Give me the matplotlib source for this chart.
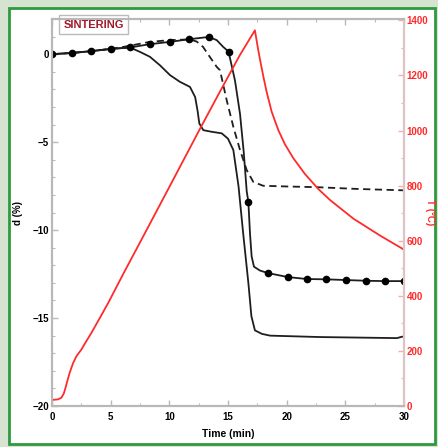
import matplotlib
matplotlib.use("Agg")
import matplotlib.pyplot as plt
from matplotlib.patches import Rectangle
from matplotlib.ticker import MultipleLocator

plt.rcParams['font.family'] = ['Liberation Sans', 'DejaVu Sans']

# solid curve with dots
t_dot = [0, 1.7, 3.3, 5.0, 6.65, 8.35, 10.06, 11.68, 13.38, 14.04, 14.6, 15.05, 15.6,
         16.03, 16.35, 16.6, 16.74, 16.88, 17.02, 17.22, 17.73, 18.4, 20.1, 21.7, 23.4,
         25.1, 26.8, 28.4, 30.0]
d_dot = [0, 0.07, 0.17, 0.3, 0.38, 0.57, 0.7, 0.85, 0.98, 0.8, 0.41, 0.15, -1.5,
         -3.4, -5.6, -7.8, -8.39, -10.2, -11.5, -12.08, -12.3, -12.44, -12.67, -12.78, -12.8,
         -12.84, -12.88, -12.9, -12.9]
t_mark = [0, 1.7, 3.3, 5.0, 6.65, 8.35, 10.06, 11.68, 13.38, 15.05, 16.74,
          18.4, 20.1, 21.7, 23.4, 25.1, 26.8, 28.4, 30.0]
d_mark = [0, 0.07, 0.17, 0.3, 0.38, 0.57, 0.7, 0.85, 0.98, 0.15, -8.39,
          -12.44, -12.67, -12.78, -12.8, -12.84, -12.88, -12.9, -12.9]

# dashed curve
t_dash = [0, 1.7, 3.3, 5.0, 6.05, 8.35, 10.06, 11.76, 12.33, 12.87, 13.5, 14.04, 14.32,
          14.89, 15.46, 16.03, 16.6, 17.16, 18.0, 20.0, 22.57, 26.0, 30.0]
d_dash = [0, 0.07, 0.17, 0.3, 0.41, 0.7, 0.8, 0.84, 0.72, 0.42, -0.2, -0.72, -0.91,
          -2.61, -4.13, -5.45, -6.59, -7.26, -7.48, -7.52, -7.56, -7.66, -7.74]

# lower solid curve
t_low = [0, 1.7, 3.3, 5.0, 6.65, 7.5, 8.35, 9.2, 10.06, 10.9, 11.76, 12.2, 12.4, 12.56,
         12.9, 13.6, 14.47, 15.0, 15.46, 15.9, 16.3, 16.74, 17.0, 17.3, 17.9, 18.6,
         22.85, 29.4, 29.85, 30.0]
d_low = [0, 0.07, 0.17, 0.3, 0.38, 0.13, -0.15, -0.63, -1.19, -1.57, -1.86, -2.43, -3.18, -3.94,
         -4.32, -4.41, -4.5, -4.8, -5.45, -7.5, -10.2, -13.0, -14.9, -15.7, -15.9, -16.0,
         -16.08, -16.14, -16.06, -16.05]

# temperature
t_temp = [0, 0.5, 0.8, 1.0, 1.15, 1.3, 1.5, 1.79, 2.07, 2.5, 2.92, 3.35, 3.95, 4.8, 6.08,
          8.2, 10.0, 12.6, 14.3, 16.03, 17.3, 17.55, 17.8, 18.05, 18.3, 18.73, 19.3, 19.86,
          20.57, 21.57, 22.7, 23.7, 25.7, 28.0, 30.0]
T_temp = [22, 24, 30, 45, 66, 90, 120, 155, 180, 205, 235, 265, 310, 375, 480,
          650, 795, 1005, 1140, 1275, 1364, 1300, 1243, 1190, 1140, 1068, 1001, 950,
          900, 842, 788, 748, 680, 618, 568]

red = '#ff2a2a'
grey = '#b8b8b8'
ink = '#1e1e1e'

fig = plt.figure(figsize=(4.39, 4.47), dpi=100)
fig.patch.set_facecolor('#d5e3d0')
fig.patches.append(Rectangle((0.0205, 0.007), 0.970, 0.975, transform=fig.transFigure,
                             facecolor='white', edgecolor='#2e9a3e', linewidth=2, zorder=-1))

ax = fig.add_axes([0.1185, 0.0917, 0.8015, 0.8658])
ax2 = ax.twinx()

ax.plot(t_low, d_low, color=ink, lw=1.3)
ax.plot(t_dash, d_dash, color=ink, lw=1.3, ls=(0, (4, 2.5)))
ax.plot(t_dot, d_dot, color=ink, lw=1.3)
ax.plot(t_mark, d_mark, 'o', color='black', ms=4.5)
ax2.plot(t_temp, T_temp, color=red, lw=1.3)

ax.set_xlim(0, 30)
ax.set_ylim(-20, 2)
ax2.set_ylim(0, 1405)

ax.xaxis.set_major_locator(MultipleLocator(5))
ax.xaxis.set_minor_locator(MultipleLocator(2.5))
ax.yaxis.set_major_locator(MultipleLocator(5))
ax.yaxis.set_minor_locator(MultipleLocator(1))
ax2.yaxis.set_major_locator(MultipleLocator(200))
ax2.yaxis.set_minor_locator(MultipleLocator(100))

for a in (ax, ax2):
    for s in a.spines.values():
        s.set_color(grey)
        s.set_linewidth(1.5)
ax2.spines['right'].set_color('#e0c4c4')

ax.tick_params(which='both', direction='in', top=True, color=grey, labelsize=7)
ax.tick_params(axis='x', pad=4)
ax.tick_params(axis='y', pad=2)
ax.tick_params(which='major', length=4, width=1)
ax.tick_params(which='minor', length=2, width=0.8)
ax2.tick_params(which='both', direction='in', color='#ffaaaa', labelcolor=red, labelsize=7, pad=2)
ax2.tick_params(which='major', length=4, width=1)
ax2.tick_params(which='minor', length=2, width=0.8)
for lab in ax.get_xticklabels() + ax.get_yticklabels() + ax2.get_yticklabels():
    lab.set_fontweight('bold')

ax.set_xlabel('Time (min)', fontsize=7.5, fontweight='bold', labelpad=5)
ax.set_ylabel('d (%)', fontsize=7, fontweight='bold', labelpad=7)
ax2.set_ylabel('T (°C)', fontsize=7, fontweight='bold', color=red, rotation=270, labelpad=5)

ax.text(0.032, 0.985, 'SINTERING', transform=ax.transAxes, fontsize=8, fontweight='bold',
        color='#a01828', va='center', ha='left', zorder=10,
        bbox=dict(boxstyle='square,pad=0.4', facecolor='white', edgecolor='#bbbbbb', lw=1))

fig.savefig('out.png', dpi=100, facecolor=fig.get_facecolor())
